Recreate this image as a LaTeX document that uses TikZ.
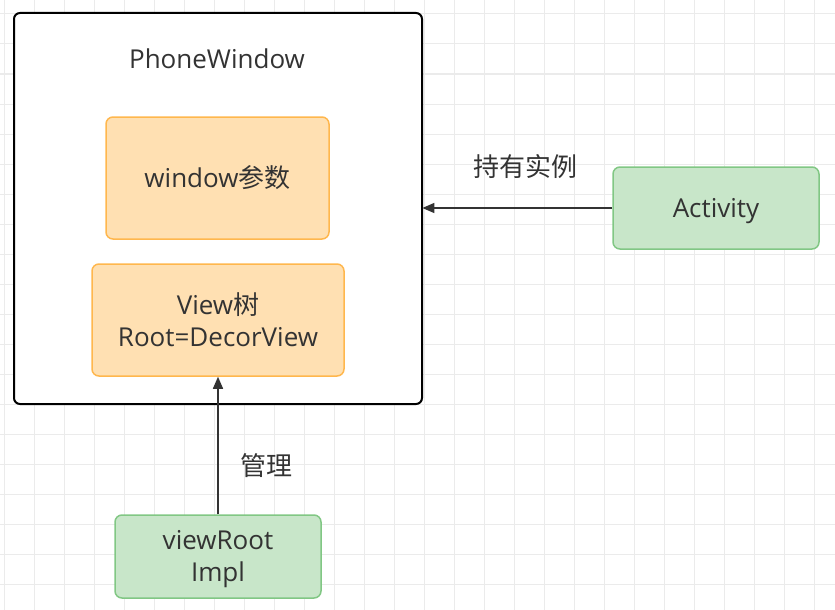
\documentclass[tikz,border=0pt]{standalone}
\usepackage{fontspec}
\setmainfont{Open Sans}
\newfontfamily\cjk{Noto Sans CJK SC}
\usetikzlibrary{arrows.meta}
\definecolor{orfill}{HTML}{FFE0B2}
\definecolor{orline}{HTML}{FFB74D}
\definecolor{grfill}{HTML}{C8E6C9}
\definecolor{grline}{HTML}{81C784}
\definecolor{txt}{HTML}{333333}
\definecolor{gridc}{HTML}{EBEBEB}
\newcommand{\lowstrut}{\rule{0pt}{25pt}}
\tikzset{
  every node/.style={text=txt, font=\fontsize{26}{32}\selectfont},
  orbox/.style={draw=orline, fill=orfill, line width=1.5pt, rounded corners=7pt, align=center, inner sep=0pt},
  grbox/.style={draw=grline, fill=grfill, line width=1.5pt, rounded corners=7pt, align=center, inner sep=0pt},
  conn/.style={draw=txt, line width=1.5pt, -{Triangle[length=12pt,width=10pt]}},
}
\begin{document}
\begin{tikzpicture}[x=1pt,y=-1pt]
\useasboundingbox (0,0) rectangle (835,610);
% grid
\foreach \gx in {4,34,...,834} \draw[gridc, line width=1pt] (\gx,0) -- (\gx,610);
\foreach \gy in {14,44,...,609} \draw[gridc, line width=1pt] (0,\gy) -- (835,\gy);
% container
\draw[black, fill=white, line width=2pt, rounded corners=6pt] (14,13) rectangle (422,404);
\node (pw) at (14,13) [anchor=north west, minimum width=408pt, minimum height=391pt, inner sep=0pt] {};
\node (pwlabel) at (217,59) {PhoneWindow};
\node[orbox, minimum width=223pt, minimum height=122pt] (wp) at (217.5,178) {window{\cjk 参数}};
\node[orbox, minimum width=252pt, minimum height=112pt] (vt) at (218,320) {View{\cjk 树}\\Root=DecorView};
\node[grbox, minimum width=206pt, minimum height=82pt] (act) at (716,208) {\lowstrut Activity};
\node[grbox, minimum width=206pt, minimum height=83pt] (vri) at (218,556.5) {\lowstrut viewRoot\\Impl};
\draw[conn] (act.west) -- (pw.east |- act.west);
\draw[conn] (vri.north) -- (vt.south);
\node (l1) at (525,167) {\cjk 持有实例};
\node (l2) at (266,466) {\cjk 管理};
\end{tikzpicture}
\end{document}
